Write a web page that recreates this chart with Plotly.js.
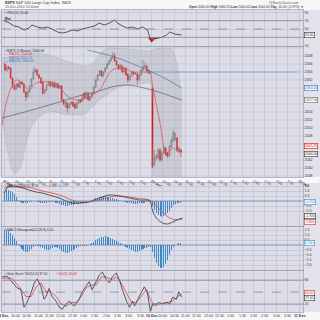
<!DOCTYPE html>
<html><head><meta charset="utf-8">
<script src="https://cdn.plot.ly/plotly-3.0.1.min.js"></script>
<style>html,body{margin:0;padding:0;background:#fff}#chart{width:320px;height:320px}</style>
</head><body><div id="chart"></div><script>
// ---- time axis (minutes from first session open; overnight gap removed) ----
const tickTimes = [0,30,60,90,120,150,180,210,240,270,300,330,360,390,420,450,480,510,540,570,600,630,660,690,720,750,780];
const tickLabels = ["<b>9 Dec</b>","10:00","10:30","11:00","11:30","12:00","12:30","1:00","1:30","2:00","2:30","3:00","3:30",
  "<b>10 Dec</b>","10:00","10:30","11:00","11:30","12:00","12:30","1:00","1:30","2:00","2:30","3:00","3:30","<b>11 Dec</b>"];

// ---- 5-minute candles ----
const openP = [2066,2064.5,2065.25,2065,2062.5,2060.5,2059.75,2061,2060.25,2061.5,
2061,2059,2057.75,2059,2060.5,2062.25,2064,2064.5,2063.25,2062.5,
2061.5,2058.75,2059.5,2060.75,2061.5,2060.5,2061.25,2060.25,2061,2060,
2060.5,2057,2055.25,2056.25,2055,2056,2056.5,2056,2055,2056.25,
2057,2056.75,2058.75,2057.5,2058.75,2057,2057.75,2058.75,2060.25,2062,
2063.25,2064.25,2063,2064,2065,2066,2066.75,2067.5,2068,2066.75,
2065.75,2064.75,2065.5,2064,2065,2063.5,2062,2063,2064,2063.5,
2063.5,2062,2063.25,2064.5,2065.25,2065.5,2064.5,2063.75,
2060,2040.75,2042.5,2042.5,2044.5,2042,2043.75,2045,2043.75,2043,2045.25,2046.75,2047,2047.5,2044,2044.5];
const highP = [2066.25,2065.75,2065.5,2065.25,2062.75,2061,2061.25,2061.5,2061.75,2061.75,
2061.25,2059.25,2059.25,2060.75,2062.5,2065,2065.25,2064.75,2063.5,2062.75,
2061.75,2059.75,2061,2061.75,2061.75,2061.5,2061.5,2061.25,2061.25,2060.75,
2060.75,2057.25,2056.75,2056.5,2056.25,2056.75,2056.75,2056.25,2056.5,2057.25,
2057.25,2058.5,2059,2059.25,2059,2058,2059,2060.5,2062.25,2063.5,
2064.5,2064.5,2064.25,2065.25,2066.25,2067,2067.75,2069,2068.75,2067,
2066,2066,2065.75,2065.25,2065.25,2063.75,2063.25,2064.25,2064.25,2064,
2063.75,2063.5,2064.75,2067,2066.5,2065.75,2064.75,2064.25,
2060.25,2044.5,2043.5,2045,2045,2044.25,2045.5,2045.25,2044,2045.75,2047.5,2049.5,2049,2047.75,2045.25,2044.75];
const lowP = [2064.25,2064,2064.5,2062.25,2060,2059.25,2059.5,2060,2060,2060.75,
2058.75,2056.75,2057.5,2058.75,2060.25,2062,2063.75,2063,2062.25,2061,
2058.25,2058.5,2059.25,2060.5,2060.25,2060.25,2060,2060,2059.75,2059.75,
2056.5,2055.75,2055,2053.75,2054.75,2055.75,2055.25,2054.75,2054.75,2056,
2056.25,2056.5,2057.25,2057.25,2056.75,2056.75,2057.5,2058.5,2060,2061.75,
2063,2062.75,2062.75,2063.75,2064.75,2065.75,2066.5,2067.25,2066.5,2065.5,
2064.5,2064.5,2063.75,2063.75,2063,2061.25,2061.75,2062.75,2063.25,2063.25,
2060.75,2061.75,2063,2064.25,2065,2064,2063.5,2063.5,
2040,2040.5,2041.75,2042.25,2041.5,2041.75,2043.5,2043,2042.5,2042.75,2045,2046.5,2046.75,2044,2043.75,2042.75];
const closeP = [2064.5,2065.25,2065,2062.5,2060.5,2059.75,2061,2060.25,2061.5,2061,
2059,2057.75,2059,2060.5,2062.25,2064,2064.5,2063.25,2062.5,2061.25,
2058.75,2059.5,2060.75,2061.5,2060.5,2061.25,2060.25,2061,2060,2060.5,
2057,2056,2056.5,2055,2056,2056.5,2055.5,2055,2056.25,2057,
2056.5,2058.25,2057.5,2059,2057,2057.75,2058.75,2060.25,2062,2063.25,
2064.25,2063,2064,2065,2066,2066.75,2067.5,2068.25,2066.75,2065.75,
2064.75,2065.75,2064,2065,2063.25,2062,2063,2064,2063.5,2063.75,
2062,2063.25,2064.5,2065.25,2065.5,2064.25,2063.75,2064,
2040.25,2042.5,2043,2044.5,2042,2043.75,2045,2043.25,2043,2045.5,2047,2048.75,2048.5,2044.5,2045,2044];
const barsDay1 = 78;
const barTimes = openP.map((_, i) => i < barsDay1 ? 5 * i + 2.5 : 390 + 5 * (i - barsDay1) + 2.5);

// ---- overlays ----
const bandT = [-5,13,27,40,53,66,85,119,146,164,172,199,207,220,233,239,252,265,279,305,332,358,377,387,393,398,411,424,438,443,451,459,464,470];
const bandUpper = [2067.5,2067.75,2067.9,2068,2068.25,2068.5,2068.75,2068.25,2067.5,2066.75,2066.5,2065.75,2065.6,2065.5,2066,2066.5,2068.25,2069.5,2070,2069.9,2069.75,2069.5,2069.25,2069.25,2069.5,2069.75,2070,2070,2069.9,2069.75,2068,2065.25,2062,2057];
const bandLower = [2052,2042.75,2038.75,2039.5,2043.75,2048.75,2052,2054,2053.75,2053.25,2053.25,2053.25,2053.25,2054,2055.25,2055.75,2057,2057.75,2058.75,2060.25,2060.75,2061,2061.25,2061,2034.5,2030.75,2024.5,2020.75,2019.5,2019.5,2020,2020.75,2021.5,2022];
const maRedT = [-5,8,19,32,48,66,85,119,138,164,191,218,233,252,271,286,313,340,366,385,393,411,430,446,456,470];
const maRed = [2050.75,2057,2060,2062,2061.25,2059.5,2061.25,2061.5,2061.25,2058.25,2057,2057.5,2058.25,2059.5,2062.5,2064.5,2065,2064,2064,2063.75,2060.5,2052,2043.75,2045,2044.5,2044];
const maGrayT = [-5,74,164,207,252,284,326,371,416,470];
const maGray = [2052.5,2054.5,2057,2058.25,2059.25,2060.25,2060.75,2060,2058.75,2057];
const maBlueT = [220,292,379,424,470];
const maBlue = [2069.5,2067.75,2064.5,2062.5,2060];
const levelT = [358,777];
const levelP = [2064,2064];
const priceTicks = [2038,2040,2042,2048,2050,2052,2054,2062,2064,2066,2068];

// ---- RSI ----
const rsiT = [0,13,27,40,53,66,74,88,101,114,127,141,154,167,180,194,207,225,239,252,265,279,292,300,313,326,340,353,366,379,390,398,411,419,430,438,446,451,470];
const rsi = [70,65.1,57.2,54.8,47.6,52.4,59.6,54.8,52.4,54.8,50,42.8,40.4,42.8,47.6,45.2,50,54.8,57.2,64.4,59.6,64.4,71.6,64.4,57.2,52.4,54.8,50,54.8,47.6,18.8,26,28.4,30.8,35.6,42.8,40.4,38,35.6];
const rsiTicks = [10,50,70,90];

// ---- MACD ----
const macdT = [0,13,21,40,66,85,101,119,146,164,180,207,233,252,279,305,332,358,385,393,403,419,432,446,464,472];
const macdLine = [0.8,1.5,1.5,1.4,1.1,0.9,0.8,0.6,0.3,0.0,-0.2,-0.2,0,0.3,0.6,0.5,0.3,0.1,0,-1.0,-1.7,-2.2,-2.3,-2.1,-1.8,-1.7];
const sigT = [0,21,48,74,101,127,154,172,199,225,252,279,305,332,358,385,398,411,424,438,451,472];
const sigLine = [1.3,1.4,1.4,1.3,1.0,0.8,0.5,0.2,-0.1,-0.1,0.1,0.4,0.5,0.4,0.25,0.1,-0.3,-0.8,-1.3,-1.7,-1.85,-1.8];
const macdHist = [0.9,1.1,1.1,1.0,0.9,0.7,0.4,0.1,-0.1,-0.2,
-0.2,-0.2,-0.15,-0.1,-0.05,0.05,0.0,-0.05,-0.1,-0.15,
-0.2,-0.2,-0.15,-0.1,-0.05,-0.05,-0.1,-0.15,-0.2,-0.25,
-0.35,-0.4,-0.45,-0.45,-0.4,-0.4,-0.35,-0.3,-0.3,-0.25,
-0.2,-0.15,-0.1,-0.05,0.0,0.05,0.1,0.2,0.3,0.35,
0.4,0.45,0.5,0.5,0.45,0.4,0.35,0.3,0.25,0.2,
0.1,0.05,0.0,-0.05,-0.1,-0.15,-0.2,-0.2,-0.25,-0.25,
-0.25,-0.2,-0.2,-0.15,-0.15,-0.1,-0.1,-0.1,
-0.5,-0.9,-1.2,-1.4,-1.5,-1.55,-1.5,-1.4,-1.2,-1.0,-0.7,-0.4,-0.25,-0.2,-0.15,-0.15];
const macdTicks = [1.5,1.0,0.5,-0.5,-1.0];

// ---- second histogram panel ----
const hist2 = [1.5,1.5,1.4,1.2,1.0,0.7,0.4,0.1,-0.2,-0.4,
-0.6,-0.7,-0.7,-0.6,-0.4,-0.2,-0.1,-0.05,-0.1,-0.2,
-0.3,-0.4,-0.5,-0.5,-0.4,-0.3,-0.2,-0.2,-0.3,-0.4,
-0.6,-0.7,-0.8,-0.8,-0.7,-0.6,-0.5,-0.4,-0.3,-0.2,
-0.1,-0.1,-0.1,-0.05,0,0.1,0.2,0.3,0.5,0.6,
0.7,0.8,0.8,0.9,0.8,0.8,0.7,0.6,0.5,0.4,
0.3,0.2,0.1,-0.1,-0.2,-0.3,-0.4,-0.5,-0.6,-0.7,
-0.7,-0.6,-0.5,-0.4,-0.3,-0.3,-0.2,-0.2,
-0.7,-1.3,-1.8,-2.1,-2.3,-2.3,-2.2,-1.9,-1.5,-1.0,-0.5,-0.2,0.0,0.1,0.2,0.2];
const hist2Ticks = [1.5,1.0,0.5,-0.5,-1.0,-1.5,-2.0];

// ---- Slow stochastic ----
const stochKT = [-5,8,21,34,45,53,61,72,80,88,98,106,111,119,127,138,146,154,164,172,186,199,207,218,225,233,244,252,260,271,279,286,297,305,313,324,332,340,345,353,363,371,379,387,393,403,411,419,430,438,446,456,462,470];
const stochK = [88,90,76,61,56,12,24,49,73,83,63,32,39,59,39,27,12,7,20,27,15,32,51,68,76,56,76,93,100,81,73,88,98,81,56,27,12,27,15,32,49,63,49,2,20,20,24,20,24,20,37,32,51,37];
const stochDT = [-5,21,40,58,72,85,98,111,125,138,151,164,178,191,204,218,231,244,257,271,284,297,310,324,337,350,363,377,387,398,411,430,446,459,470];
const stochD = [85,85,63,39,39,63,73,51,51,39,20,15,24,24,39,61,68,68,88,88,81,88,73,49,24,24,39,56,32,15,20,24,27,39,44];
const stochTicks = [20,80];

// ================= drawing =================
const FONT = "Liberation Sans, Arial, sans-serif";
const BG = "#dddde8", GRID = "#c9c9d9", AXL = "#9a9ab2", TXT = "#333";
const H = 320;
const py = p => 1 - p / H;

const traces = [];
// RSI
traces.push({x: rsiT, y: rsi.map(() => 30), xaxis:'x', yaxis:'y', mode:'lines', line:{width:0, color:'rgba(0,0,0,0)'}, hoverinfo:'skip'});
traces.push({x: rsiT, y: rsi.map(v => Math.min(v, 30)), xaxis:'x', yaxis:'y', mode:'lines', line:{width:0, color:'rgba(0,0,0,0)'}, fill:'tonexty', fillcolor:'rgba(215,20,20,0.85)', hoverinfo:'skip'});
traces.push({x: rsiT, y: rsi, xaxis:'x', yaxis:'y', mode:'lines', line:{width:0.8, color:'#333'}, hoverinfo:'skip'});
// Main: band
traces.push({x: bandT, y: bandUpper, xaxis:'x2', yaxis:'y2', mode:'lines', line:{width:0.5, color:'rgba(160,160,175,0.6)', shape:'spline'}, hoverinfo:'skip'});
traces.push({x: bandT, y: bandLower, xaxis:'x2', yaxis:'y2', mode:'lines', line:{width:0.5, color:'rgba(160,160,175,0.6)', shape:'spline'}, fill:'tonexty', fillcolor:'rgba(165,165,178,0.32)', hoverinfo:'skip'});
traces.push({x: levelT, y: levelP, xaxis:'x2', yaxis:'y2', mode:'lines', line:{width:0.8, color:'#8797cc'}, hoverinfo:'skip'});
traces.push({x: maGrayT, y: maGray, xaxis:'x2', yaxis:'y2', mode:'lines', line:{width:0.8, color:'#6a6a74', shape:'spline'}, hoverinfo:'skip'});
traces.push({x: maBlueT, y: maBlue, xaxis:'x2', yaxis:'y2', mode:'lines', line:{width:0.8, color:'#5b7eaa', shape:'spline'}, hoverinfo:'skip'});
traces.push({x: maRedT, y: maRed, xaxis:'x2', yaxis:'y2', mode:'lines', line:{width:0.7, color:'#e04848', shape:'spline'}, hoverinfo:'skip'});
traces.push({type:'candlestick', x: barTimes, open: openP, high: highP, low: lowP, close: closeP, xaxis:'x2', yaxis:'y2',
  increasing:{line:{color:'#5a5a5a', width:0.6}, fillcolor:'#c4c4cc'},
  decreasing:{line:{color:'#e00000', width:0.6}, fillcolor:'#e00000'},
  whiskerwidth:0, hoverinfo:'skip'});
// MACD
traces.push({type:'bar', x: barTimes, y: macdHist, xaxis:'x3', yaxis:'y3', width:2.8, marker:{color:'#3a8cc8', line:{width:0}}, hoverinfo:'skip'});
traces.push({x: sigT, y: sigLine, xaxis:'x3', yaxis:'y3', mode:'lines', line:{width:0.8, color:'#e04848', shape:'spline'}, hoverinfo:'skip'});
traces.push({x: macdT, y: macdLine, xaxis:'x3', yaxis:'y3', mode:'lines', line:{width:0.8, color:'#333', shape:'spline'}, hoverinfo:'skip'});
// Histogram panel
traces.push({type:'bar', x: barTimes, y: hist2, xaxis:'x4', yaxis:'y4', width:2.8, marker:{color:'#3a8cc8', line:{width:0}}, hoverinfo:'skip'});
// Stoch
traces.push({x: stochDT, y: stochD, xaxis:'x5', yaxis:'y5', mode:'lines', line:{width:0.8, color:'#e04848'}, hoverinfo:'skip'});
traces.push({x: stochKT, y: stochK, xaxis:'x5', yaxis:'y5', mode:'lines', line:{width:0.8, color:'#333'}, hoverinfo:'skip'});

const panels = [
  {top:10, bot:46, range:[9.2,95.6], tickvals:rsiTicks, fmt:''},
  {top:47, bot:177, range:[2037.75,2070.25], tickvals:priceTicks, fmt:''},
  {top:183, bot:226, range:[-2.5,1.8], tickvals:macdTicks, fmt:'.1f'},
  {top:227, bot:270, range:[-2.5,1.8], tickvals:hist2Ticks, fmt:'.1f'},
  {top:271, bot:312, range:[0,103], tickvals:stochTicks, fmt:''}
];
const layout = {
  width:320, height:320, margin:{l:0,r:0,t:0,b:0},
  paper_bgcolor:'#e2e2ec', plot_bgcolor:BG, showlegend:false,
  font:{family:FONT, size:4, color:TXT},
  bargap:0, shapes:[], annotations:[]
};
panels.forEach((p, i) => {
  const n = i === 0 ? '' : String(i + 1);
  layout['xaxis' + n] = {
    domain:[2/320, 303/320], range:[-5.3, 790.5], anchor:'y' + n,
    tickvals: tickTimes, ticktext: tickLabels, showticklabels: (i === 1),
    tickfont:{size:3.6, color:'#333'}, ticks:'', showgrid:true, gridcolor:GRID, gridwidth:1,
    zeroline:false, showline:true, mirror:true, linecolor:AXL, linewidth:0.7, fixedrange:true,
    rangeslider:{visible:false}
  };
  layout['yaxis' + n] = {
    domain:[py(p.bot), py(p.top)], range:p.range, anchor:'x' + n, side:'right',
    tickmode:'array', tickvals:p.tickvals,
    tickfont:{size:3.6, color:'#333'}, ticks:'', showgrid:true, gridcolor:GRID, gridwidth:1,
    zeroline:false, showline:true, mirror:true, linecolor:AXL, linewidth:0.7, fixedrange:true,
    tickformat:p.fmt
  };
});
// main price grid every 2 points (including rows hidden behind value boxes)
layout.yaxis2.showgrid = false;
for (let v = 2038; v <= 2070; v += 2) {
  layout.shapes.push({type:'line', xref:'x2 domain', yref:'y2', x0:0, x1:1, y0:v, y1:v, line:{color:GRID, width:1}, layer:'below'});
}

// light bands (header / date strip / bottom strip)
[[0,10],[177,183],[312,320]].forEach(b => layout.shapes.push({type:'rect', xref:'paper', yref:'paper', x0:0, x1:1, y0:py(b[1]), y1:py(b[0]), fillcolor:'#f7f7fa', line:{width:0}, layer:'below'}));
// reference levels
const hl = (ax, v, dash, color) => layout.shapes.push({type:'line', xref:ax[0] + ' domain', yref:ax[1], x0:0, x1:1, y0:v, y1:v, line:{color:color || '#8686a0', width:0.8, dash:dash || 'solid'}});
hl(['x','y'], 70); hl(['x','y'], 50, 'dash'); hl(['x','y'], 30);
hl(['x3','y3'], 0, 'solid', '#6f7fa8');
hl(['x4','y4'], 0, 'solid', '#6f7fa8');
hl(['x5','y5'], 80); hl(['x5','y5'], 50, 'dash'); hl(['x5','y5'], 20);

const A = layout.annotations;
const txt = (text, x, y, size, color, anchor) => A.push({text, x:x/320, y:py(y), xref:'paper', yref:'paper', xanchor:anchor || 'left', yanchor:'middle', showarrow:false, font:{size:size || 3.6, color:color || TXT, family:FONT}});
txt('<b>$SPX</b> S&P 500 Large Cap Index  INDX', 3, 3, 3.8);
txt('10-Dec-2014 10:50am', 3, 7.2, 3.4, '#555');
txt('@StockCharts.com', 300, 2.6, 3.4, '#555', 'right');
txt('<b>Open</b> 2060.00 <b>High</b> 2060.25 <b>Low</b> 2040.00 <b>Last</b> 2044.00 <b>Chg</b> -20.00 (-0.97%) ▼', 306, 7.2, 3.2, '#333', 'right');
txt('▪ RSI(14) 35.60', 3, 13, 3.4);
txt('<b>Rsi</b>', 3, 19.5, 3.8, '#222');
txt('▪ $SPX (5 Minute) 2044.00', 3, 50.5, 3.3, '#222');
txt('— MA(10) 2044.00', 3, 54, 3.2, '#d03030');
txt('— MA(50) 2057.00', 3, 57.5, 3.2, '#5b6fa0');
txt('— MA(100) 2060.00', 3, 61, 3.2, '#3d6cc0');
txt('▪ MACD(12,26,9) -1.70', 3, 185.5, 3.3, '#333');
txt('▪ -1.80', 44, 185.5, 3.3, '#d03030');
txt('▪ 0.10', 55, 185.5, 3.3, '#3a8cc8');
txt('▪ MACD Histogram(12,26,9) 0.20', 3, 229.5, 3.3, '#333');
txt('▪ Slow Stoch %K(14,3) 37.00', 3, 273.5, 3.3, '#333');
txt('▪ %D(3) 44.00', 54, 273.5, 3.3, '#d03030');
// bottom time labels
tickTimes.forEach((t, i) => A.push({text: tickLabels[i], xref:'x5', x:t, yref:'paper', y:py(315.5), xanchor:'center', yanchor:'middle', showarrow:false, font:{size:3.6, color:'#333', family:FONT}}));

const box = (text, yref, v, color) => A.push({text, xref:'paper', x:304/320, yref, y:v, xanchor:'left', yanchor:'middle', showarrow:false, bgcolor:'#fafafa', bordercolor:color, borderwidth:0.6, borderpad:0.4, font:{size:3.4, color:color, family:FONT}});
box('35.60', 'y', 35.6, '#333');
box('2060.00', 'y2', 2060, '#3d6cc0');
box('2057.00', 'y2', 2057, '#666');
box('2045.25', 'y2', 2045.4, '#e00000');
box('2044.00', 'y2', 2043.6, '#333');
box('-0.150', 'y3', -0.1, '#3a8cc8');
box('-1.700', 'y3', -1.5, '#333');
box('-1.800', 'y3', -2.05, '#d03030');
box('0.200', 'y4', 0.2, '#3a8cc8');
box('44.00', 'y5', 49, '#d03030');
box('37.00', 'y5', 34, '#333');

Plotly.newPlot('chart', traces, layout, {staticPlot:true, displayModeBar:false});
</script></body></html>
